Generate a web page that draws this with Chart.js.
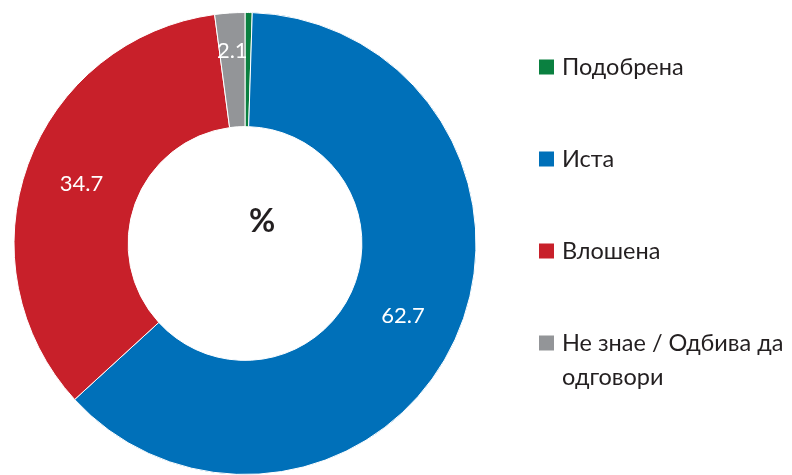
<!DOCTYPE html>
<html>
<head>
<meta charset="utf-8">
<script src="https://cdn.jsdelivr.net/npm/chart.js@4.4.1/dist/chart.umd.min.js"></script>
<style>
  html, body { margin: 0; padding: 0; background: #ffffff; }
  #wrap { position: relative; width: 792px; height: 475px; }
</style>
</head>
<body>
<div id="wrap"><canvas id="c" width="792" height="475"></canvas></div>
<script>
const categories = ["Подобрена", "Иста", "Влошена", "Не знае / Одбива да одговори"];
const values = [0.5, 62.7, 34.7, 2.1];
const valueLabels = ["", "62.7", "34.7", "2.1"];
const colors = ["#0a8040", "#0070b9", "#c8202a", "#939598"];
const centerText = "%";

const FONT = "Lato, 'Open Sans', sans-serif";

const sliceLabelPlugin = {
  id: 'sliceLabels',
  afterDatasetsDraw(chart, args, opts) {
    const ctx = chart.ctx;
    const meta = chart.getDatasetMeta(0);
    ctx.save();
    ctx.fillStyle = '#ffffff';
    ctx.font = opts.font;
    ctx.textAlign = 'center';
    ctx.textBaseline = 'middle';
    meta.data.forEach((arc, i) => {
      const txt = valueLabels[i];
      if (!txt) return;
      const p = arc.getProps(['x', 'y', 'startAngle', 'endAngle', 'innerRadius', 'outerRadius'], true);
      const mid = (p.startAngle + p.endAngle) / 2;
      const f = (opts.radialFraction && opts.radialFraction[i] != null) ? opts.radialFraction[i] : 0.5;
      const r = p.innerRadius + (p.outerRadius - p.innerRadius) * f;
      ctx.fillText(txt, p.x + Math.cos(mid) * r, p.y + Math.sin(mid) * r);
    });
    const a = meta.data[0];
    ctx.fillStyle = '#231f20';
    ctx.font = opts.centerFont;
    ctx.fillText(centerText, a.x + opts.centerDx, a.y + opts.centerDy);
    ctx.restore();
  }
};

const legendPlugin = {
  id: 'sideLegend',
  afterDraw(chart, args, opts) {
    const ctx = chart.ctx;
    const ds = chart.data.datasets[0];
    ctx.save();
    ctx.font = opts.font;
    ctx.textBaseline = 'middle';
    ctx.textAlign = 'left';
    chart.data.labels.forEach((lab, i) => {
      const cy = opts.top + i * opts.spacing;
      ctx.fillStyle = ds.backgroundColor[i];
      ctx.fillRect(opts.x, cy - opts.box / 2, opts.box, opts.box);
      const words = lab.split(' ');
      const lines = [];
      let cur = '';
      words.forEach(w => {
        const test = cur ? cur + ' ' + w : w;
        if (ctx.measureText(test).width > opts.maxWidth && cur) { lines.push(cur); cur = w; }
        else cur = test;
      });
      if (cur) lines.push(cur);
      ctx.fillStyle = '#231f20';
      lines.forEach((ln, k) => {
        ctx.fillText(ln, opts.x + opts.box + opts.gap, cy + k * opts.lineHeight);
      });
    });
    ctx.restore();
  }
};

new Chart(document.getElementById('c'), {
  type: 'doughnut',
  data: {
    labels: categories,
    datasets: [{
      data: values,
      backgroundColor: colors,
      borderColor: '#ffffff',
      borderWidth: 1,
      hoverOffset: 0
    }]
  },
  options: {
    responsive: false,
    animation: false,
    cutout: '50.6%',
    rotation: 0,
    layout: { padding: { left: 12, right: 314, top: 12, bottom: 0 } },
    plugins: {
      legend: { display: false },
      tooltip: { enabled: false },
      sliceLabels: {
        font: "22px " + FONT,
        radialFraction: [0.5, 0.5, 0.5, 0.67],
        centerFont: "bold 32px " + FONT,
        centerDx: 17,
        centerDy: -22
      },
      sideLegend: {
        x: 539, top: 67, spacing: 92, box: 15, gap: 8,
        font: "23.5px " + FONT, maxWidth: 232, lineHeight: 34
      }
    }
  },
  plugins: [sliceLabelPlugin, legendPlugin]
});
</script>
</body>
</html>
